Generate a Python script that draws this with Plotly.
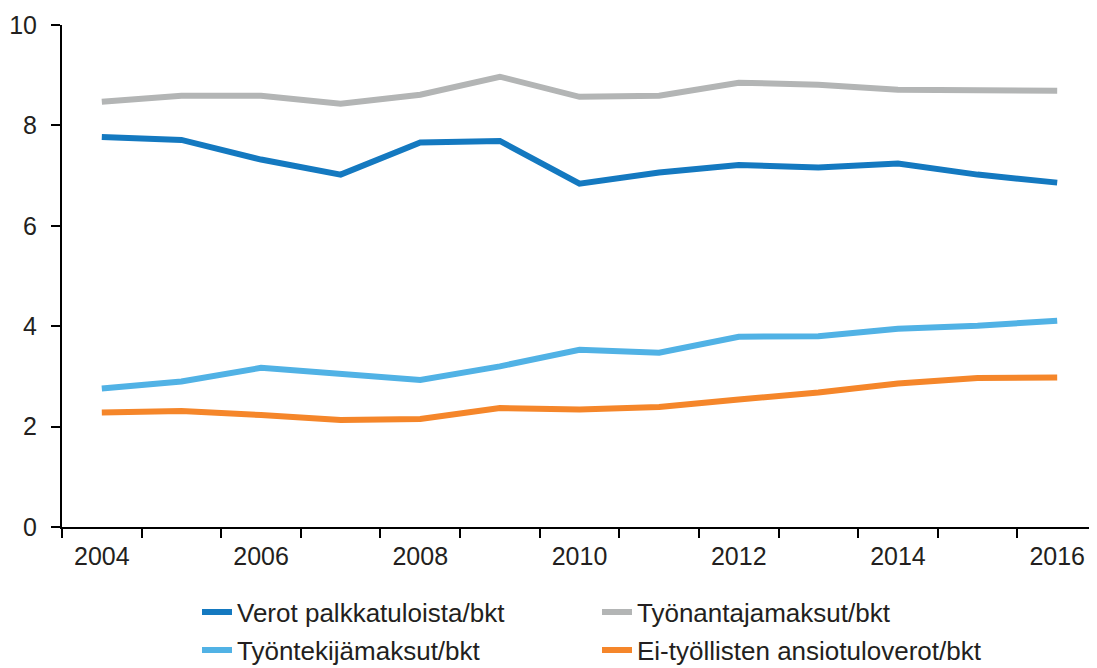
import plotly.graph_objects as go

years = list(range(2004, 2017))
verot = [7.77, 7.71, 7.32, 7.02, 7.66, 7.69, 6.84, 7.06, 7.21, 7.16, 7.24, 7.02, 6.86]
tyonantaja = [8.47, 8.59, 8.59, 8.43, 8.61, 8.97, 8.57, 8.59, 8.85, 8.81, 8.71, 8.70, 8.69]
tyontekija = [2.76, 2.90, 3.17, 3.04, 2.93, 3.20, 3.53, 3.47, 3.79, 3.80, 3.95, 4.01, 4.11]
eityollisten = [2.28, 2.31, 2.23, 2.13, 2.15, 2.37, 2.34, 2.39, 2.54, 2.68, 2.86, 2.97, 2.98]

names = ["Verot palkkatuloista/bkt", "Työnantajamaksut/bkt",
         "Työntekijämaksut/bkt", "Ei-työllisten ansiotuloverot/bkt"]
colors = ["#1479c0", "#b3b5b5", "#51b2e5", "#f5862a"]
series = [verot, tyonantaja, tyontekija, eityollisten]
legends = ["legend", "legend", "legend2", "legend2"]

FONT = "Liberation Sans, Arial, sans-serif"
TXT = "#231f20"
W, H = 1089, 660  # page adds an 8px body margin

fig = go.Figure()
for name, col, vals, lg in zip(names, colors, series, legends):
    fig.add_trace(go.Scatter(x=years, y=vals, name=name, mode="lines",
                             line=dict(color=col, width=6), legend=lg))

leg_common = dict(orientation="h", xref="container", yref="container",
                  xanchor="left", yanchor="middle", entrywidth=355,
                  entrywidthmode="pixels", font=dict(family=FONT, size=26, color=TXT),
                  bgcolor="rgba(0,0,0,0)", itemwidth=30)

fig.update_layout(
    width=W, height=H,
    margin=dict(l=54, r=0, t=17, b=141),
    plot_bgcolor="white", paper_bgcolor="white",
    font=dict(family=FONT, size=25, color=TXT),
    showlegend=True,
    legend=dict(x=189/W, y=1 - 604/H, **leg_common),
    legend2=dict(x=189/W, y=1 - 642/H, **leg_common),
    xaxis=dict(range=[2003.5, 2016.5], tickvals=list(range(2004, 2017, 2)),
               ticks="", showgrid=False, zeroline=False,
               showline=True, linecolor="black", linewidth=2,
               ticklabelstandoff=6,
               tickfont=dict(family=FONT, size=25, color=TXT),
               minor=dict(tick0=2003.5, dtick=1, ticks="outside", ticklen=9,
                          tickwidth=2, tickcolor="black", showgrid=False)),
    yaxis=dict(range=[0, 10], dtick=2, ticks="outside", ticklen=9, tickwidth=2,
               tickcolor="black", showgrid=False, zeroline=False,
               showline=True, linecolor="black", linewidth=2,
               ticklabelstandoff=9,
               tickfont=dict(family=FONT, size=25, color=TXT)),
)

fig.write_html("out.html")
